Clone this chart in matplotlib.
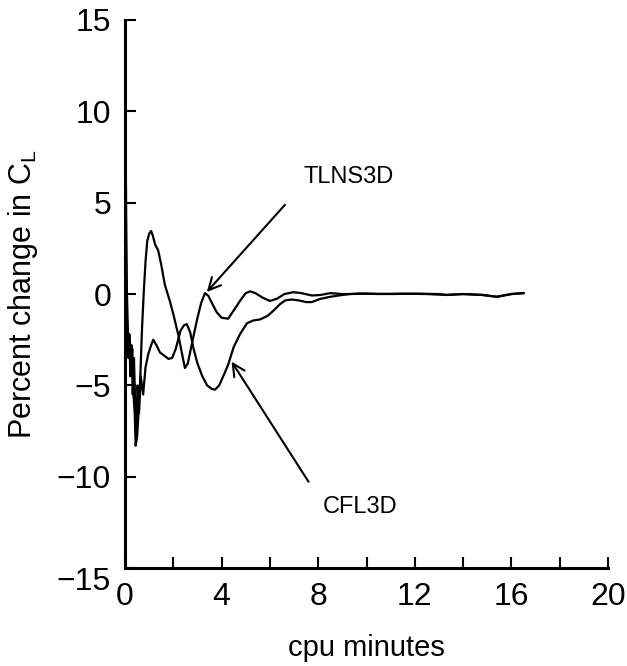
import matplotlib
matplotlib.use("Agg")
import matplotlib.pyplot as plt
from matplotlib.ticker import MultipleLocator

plt.rcParams['font.family'] = ['Liberation Sans', 'DejaVu Sans']
plt.rcParams['mathtext.fontset'] = 'custom'
plt.rcParams['mathtext.rm'] = 'Liberation Sans'
plt.rcParams['mathtext.it'] = 'Liberation Sans'

# TLNS3D curve (percent change in CL vs cpu minutes)
tlns_x = [0, 0.02, 0.05, 0.08, 0.12, 0.16, 0.2, 0.25, 0.3, 0.35, 0.4, 0.44, 0.5, 0.56, 0.62,
          0.7, 0.78, 0.85, 0.92, 1.0, 1.08, 1.15, 1.25, 1.37, 1.5, 1.65, 1.86, 2.0, 2.2, 2.35,
          2.48, 2.6, 2.82, 3.0, 3.15, 3.31, 3.45, 3.6, 3.8, 4.0, 4.27, 4.5, 4.8, 5.0, 5.18,
          5.4, 5.7, 6.0, 6.3, 6.6, 6.96, 7.3, 7.74, 8.1, 8.5, 9.0, 9.3, 10, 11, 12, 13, 13.3,
          14, 14.8, 15.4, 16, 16.5]
tlns_y = [15, 9, 4, 0, -2, -3, -2.5, -4, -3, -5.5, -6.5, -8.3, -7.8, -6.5, -5,
          -2, 0.2, 1.8, 2.9, 3.3, 3.45, 3.2, 2.7, 2.4, 1.6, 0.5, -0.4, -1.1, -2.2, -3.2,
          -4.05, -3.8, -2.4, -1.3, -0.5, 0.05, -0.1, -0.5, -1.0, -1.3, -1.35, -0.9, -0.3, 0.05, 0.15,
          0.05, -0.2, -0.38, -0.25, 0.0, 0.1, 0.05, -0.08, -0.05, 0.05, 0.0, 0.0, 0.02, 0.0, 0.02, 0.0, -0.05,
          0.0, -0.05, -0.15, 0.0, 0.05]

# CFL3D curve
cfl_x = [0, 0.03, 0.06, 0.1, 0.14, 0.18, 0.22, 0.27, 0.32, 0.37, 0.42, 0.47, 0.52, 0.58, 0.65,
         0.75, 0.85, 0.96, 1.08, 1.17, 1.3, 1.45, 1.6, 1.8, 1.95, 2.1, 2.3, 2.45, 2.56, 2.7,
         2.83, 3.0, 3.2, 3.4, 3.6, 3.73, 3.9, 4.1, 4.27, 4.5, 4.76, 5.05, 5.3, 5.59, 5.9,
         6.13, 6.42, 6.63, 6.9, 7.2, 7.5, 7.74, 8.07, 8.5, 8.9, 9.3, 9.73, 10.5, 11.5, 12.5,
         13.3, 14, 14.8, 15.4, 16, 16.5]
cfl_y = [7.0, 3.0, -1.5, -2.5, -3.5, -2.2, -4.5, -2.8, -5.5, -3.5, -6.0, -7.8, -5.0, -6.5, -4.5,
         -5.5, -4.0, -3.3, -2.8, -2.5, -2.8, -3.2, -3.35, -3.55, -3.5, -3.0, -2.0, -1.7, -1.65, -2.1,
         -2.95, -3.8, -4.5, -5.0, -5.2, -5.23, -5.0, -4.4, -3.87, -2.9, -2.2, -1.6, -1.45, -1.39, -1.2,
         -0.93, -0.55, -0.35, -0.3, -0.35, -0.44, -0.44, -0.27, -0.15, -0.07, 0.0, 0.03, 0.0, 0.02, 0.0,
         -0.05, 0.0, -0.05, -0.15, 0.0, 0.05]

x_major = [0, 4, 8, 12, 16, 20]
y_major = [-15, -10, -5, 0, 5, 10, 15]
y_labels = ['', '\u221210', '\u22125', '0', '5', '10', '15']

fig = plt.figure(figsize=(6.27, 6.66), dpi=100)
ax = fig.add_axes([0.1994, 0.147, 0.7703, 0.823])

ax.plot(tlns_x, tlns_y, color='black', lw=1.6)
ax.plot(cfl_x, cfl_y, color='black', lw=1.6)

ax.set_xlim(0, 20)
ax.set_ylim(-15, 15)
for s in ['top', 'right']:
    ax.spines[s].set_visible(False)
for s in ['left', 'bottom']:
    ax.spines[s].set_linewidth(2.2)

ax.set_xticks(x_major)
ax.set_xticklabels([str(v) for v in x_major])
ax.xaxis.set_minor_locator(MultipleLocator(2))
ax.set_yticks(y_major)
ax.set_yticklabels(y_labels)
ax.tick_params(axis='both', which='both', direction='in', length=8, width=1.5,
               labelsize=23)
ax.tick_params(axis='y', pad=10)
ax.tick_params(axis='x', pad=10)

# -15 label sits slightly below its tick in the reference
ax.text(-0.03, -0.025, '\u221215', transform=ax.transAxes, ha='right', va='center',
        fontsize=23)

ax.set_xlabel('cpu minutes', fontsize=21, labelpad=16)
ax.set_ylabel(r'Percent change in C$_\mathregular{L}$', fontsize=22, labelpad=12)

# Annotations
ax.annotate('', xy=(3.31, 0.0), xytext=(6.7, 5.0),
            arrowprops=dict(arrowstyle='->', lw=1.5, color='black', mutation_scale=22))
ax.text(7.37, 6.4, 'TLNS3D', fontsize=17, ha='left', va='center')
ax.annotate('', xy=(4.35, -3.57), xytext=(7.66, -10.4),
            arrowprops=dict(arrowstyle='->', lw=1.5, color='black', mutation_scale=22))
ax.text(8.2, -11.65, 'CFL3D', fontsize=17, ha='left', va='center')

fig.savefig('out.png', dpi=100)
